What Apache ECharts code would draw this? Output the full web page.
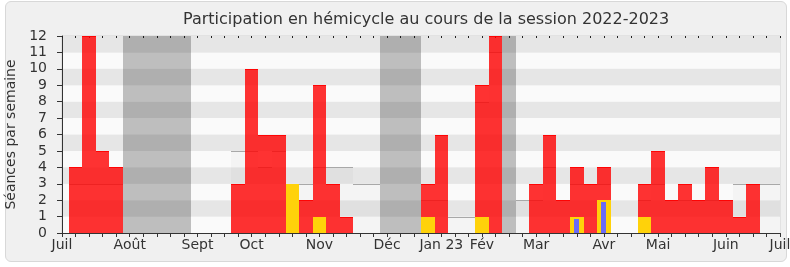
<!DOCTYPE html>
<html><head><meta charset="utf-8">
<script src="https://cdn.jsdelivr.net/npm/echarts@6/dist/echarts.min.js"></script>
<style>
html,body{margin:0;padding:0;background:#fff;}
#frame{position:absolute;left:5px;top:1px;width:782px;height:261px;box-sizing:border-box;border:1px solid #d8d8d8;border-radius:6px;background:#f0f0f0;}
#chart{position:absolute;left:0;top:0;width:790px;height:267px;}
</style></head><body>
<div id="frame"></div><div id="chart"></div>
<script>
// Weeks of the session (index 0 = first week of July 2022, 53 = first week of July 2023)
const weeks = Array.from({length: 54}, (_, i) => 'S' + i);
// Month tick labels and the week index where they appear
const monthIndex = [0, 5, 10, 14, 19, 24, 28, 31, 35, 40, 44, 49, 53];
const monthNames = ['Juil', 'Août', 'Sept', 'Oct', 'Nov', 'Déc', 'Jan 23', 'Fév', 'Mar', 'Avr', 'Mai', 'Juin', 'Juil'];
// Présences (red)
const presences = [0,4,12,5,4,0,0,0,0,0, 0,0,0,3,10,6,6,3,2,9, 3,1,0,0,0,0,0,3,6,0, 0,9,12,0,0,3,6,2,4,3, 4,0,0,3,5,2,3,2,4,2, 1,3,0,0];
// Interventions (yellow)
const interventions = [0,0,0,0,0,0,0,0,0,0, 0,0,0,0,0,0,0,3,0,1, 0,0,0,0,0,0,0,1,0,0, 0,1,0,0,0,0,0,0,1,0, 2,0,0,1,0,0,0,0,0,0, 0,0,0,0];
// Questions orales (blue)
const questions = [0,0,0,0,0,0,0,0,0,0, 0,0,0,0,0,0,0,0,0,0, 0,0,0,0,0,0,0,0,0,0, 0,0,0,0,0,0,0,0,1,0, 2,0,0,0,0,0,0,0,0,0, 0,0,0,0];
// Présence médiane des députés (grey line)
const mediane = [0,3,3,3,3,0,0,0,0,0, 0,0,0,5,5,4,5,3,3,4, 4,4,3,3,0,0,0,2,2,1, 1,8,11,0,2,2,4,2,3,3, 3,0,0,2,3,2,2,2,2,2, 3,3,3,3];
// Vacances parlementaires (week indices)
const vacances = [5, 6, 7, 8, 9, 24, 25, 26, 33];
const yMax = 12;

const FONT = 'DejaVu Sans';
const chart = echarts.init(document.getElementById('chart'), null, {renderer: 'canvas'});

const pairs = arr => arr.map((v, i) => [i, v]);
const vacData = weeks.map((w, i) => [i, vacances.includes(i) ? yMax : 0]);

// Bars drawn through the axis scales, edges snapped to whole pixels so neighbours meet cleanly
function barRenderer(fill, frac, topStroke, inset) {
  return function (params, api) {
    const i = api.value(0), v = api.value(1);
    if (!v) return null;
    const base = api.coord([i, 0]);
    const top = api.coord([i, v]);
    const w = api.size([1, 0])[0] * frac;
    const x1 = Math.round(base[0] - w / 2), x2 = Math.round(base[0] + w / 2);
    const y1 = Math.round(top[1]) + (inset || 0), y2 = Math.round(base[1]);
    const children = [{type: 'rect', shape: {x: x1, y: y1, width: x2 - x1, height: y2 - y1}, style: {fill: fill}}];
    if (topStroke) children.push({type: 'line', shape: {x1: x1, y1: y1 + 0.5, x2: x2, y2: y1 + 0.5}, style: {stroke: topStroke, lineWidth: 1}});
    return {type: 'group', children: children};
  };
}

function medianRenderer(params, api) {
  const i = api.value(0), v = api.value(1);
  if (!v) return null;
  const base = api.coord([i, 0]);
  const top = api.coord([i, v]);
  const w = api.size([1, 0])[0];
  const x1 = Math.round(base[0] - w / 2), x2 = Math.round(base[0] + w / 2);
  const y1 = Math.round(top[1]), y2 = Math.round(base[1]);
  return {type: 'group', children: [
    {type: 'rect', shape: {x: x1, y: y1, width: x2 - x1, height: y2 - y1}, style: {fill: 'rgba(0,0,0,0.025)'}},
    {type: 'line', shape: {x1: x1, y1: y1 + 0.5, x2: x2, y2: y1 + 0.5}, style: {stroke: '#a8a8a8', lineWidth: 1}}
  ]};
}

chart.setOption({
  animation: false,
  backgroundColor: 'transparent',
  textStyle: {fontFamily: FONT},
  title: {
    text: 'Participation en hémicycle au cours de la session 2022-2023',
    left: 183, top: 12, padding: 0,
    textStyle: {fontFamily: FONT, fontSize: 16, fontWeight: 'normal', color: '#333'}
  },
  grid: {left: 62, right: 10, top: 36, bottom: 34, outerBoundsMode: 'none', containLabel: false,
         show: true, borderColor: '#d4d4d4', borderWidth: 1, backgroundColor: 'transparent'},
  xAxis: [{
    type: 'category', data: weeks, boundaryGap: false, position: 'bottom', z: 5,
    axisLine: {lineStyle: {color: '#333', width: 1}},
    axisTick: {show: true, interval: 0, length: 4, lineStyle: {color: '#333'}},
    axisLabel: {
      interval: 0, margin: 5, fontSize: 14, color: '#333', fontFamily: FONT,
      formatter: (v, idx) => { const m = monthIndex.indexOf(idx); return m >= 0 ? monthNames[m] : ''; }
    },
    splitLine: {show: false}
  }, {
    type: 'category', data: weeks, boundaryGap: false, position: 'top',
    axisLine: {show: false},
    axisTick: {show: true, interval: 0, inside: true, length: 2, lineStyle: {color: '#222'}},
    axisLabel: {show: false},
    splitLine: {show: false}
  }],
  yAxis: {
    type: 'value', min: 0, max: yMax, interval: 1,
    name: 'Séances par semaine', nameLocation: 'middle', nameGap: 41,
    nameTextStyle: {fontFamily: FONT, fontSize: 14, color: '#333'},
    axisLine: {show: true, lineStyle: {color: '#333', width: 1}},
    axisTick: {show: true, length: 5, lineStyle: {color: '#333'}},
    axisLabel: {fontSize: 14, color: '#333', margin: 15, fontFamily: FONT},
    splitLine: {show: false},
    splitArea: {show: true, areaStyle: {color: ['#fafafa', '#e6e6e6']}}
  },
  series: [{
    name: 'Médiane', type: 'custom', clip: true, data: pairs(mediane), renderItem: medianRenderer
  }, {
    name: 'Vacances', type: 'custom', clip: true, data: vacData, renderItem: barRenderer('rgba(0,0,0,0.24)', 1)
  }, {
    name: 'Présences', type: 'custom', clip: true, data: pairs(presences), renderItem: barRenderer('rgba(255,0,0,0.8)', 1, 'rgba(255,0,0,0.9)')
  }, {
    name: 'Interventions', type: 'custom', clip: true, data: pairs(interventions), renderItem: barRenderer('#ffd20a', 1)
  }, {
    name: 'Questions', type: 'custom', clip: true, data: pairs(questions), renderItem: barRenderer('#6b6bf7', 0.37, null, 2)
  }]
});
</script>
</body></html>
